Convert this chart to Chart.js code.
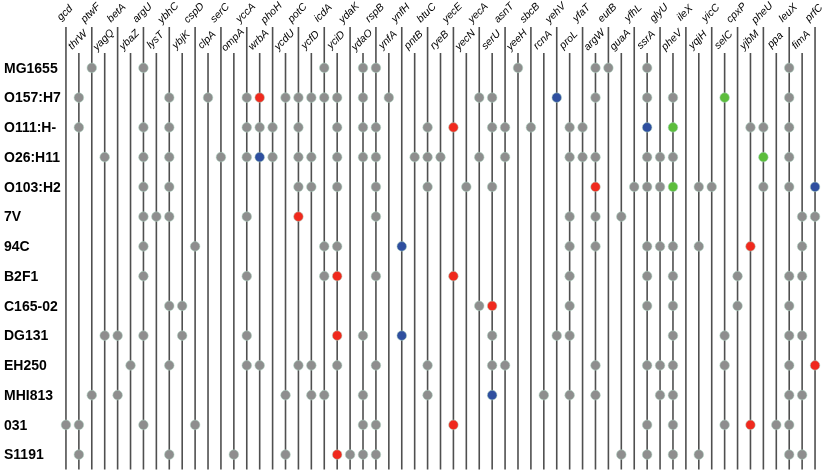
<!DOCTYPE html>
<html>
<head>
<meta charset="utf-8">
<script src="https://cdn.jsdelivr.net/npm/chart.js@4"></script>
<style>
  html, body { margin: 0; padding: 0; background: #ffffff; }
  #wrap { width: 827px; height: 475px; }
</style>
</head>
<body>
<div id="wrap"><canvas id="c" width="827" height="475"></canvas></div>
<script>
// ---- categories ----
const genes = ['gcd','thrW','ptwF','yagQ','betA','ybaZ','argU','lysT','ybhC','ybjK','cspD','clpA','serC','ompA','yccA','wrbA','phoH','ycdU','potC','ycfD','icdA','yciD','ydaK','ydaO','rspB','ynfA','ynfH','pntB','btuC','ryeB','yecE','yecN','yecA','serU','asnT','yeeH','sbcB','rcnA','yehV','proL','yfaT','argW','eutB','guaA','yfhL','ssrA','glyU','pheV','ileX','yqjH','yicC','selC','cpxP','yjbM','pheU','ppa','leuX','fimA','prfC'];
const strains = ['MG1655','O157:H7','O111:H-','O26:H11','O103:H2','7V','94C','B2F1','C165-02','DG131','EH250','MHI813','031','S1191'];

// ---- genes marked (occupied sites) per strain ----
const MG1655  = ['ptwF','argU','icdA','ydaO','rspB','yeeH','argW','eutB','ssrA','leuX'];
const O157_H7 = ['thrW','ybhC','clpA','yccA','wrbA','ycdU','potC','ycfD','icdA','yciD','ydaO','ynfA','yecA','serU','yehV','argW','ssrA','pheV','selC','leuX'];
const O111_H  = ['thrW','argU','ybhC','yccA','wrbA','phoH','potC','yciD','ydaO','rspB','btuC','yecE','serU','asnT','sbcB','proL','yfaT','ssrA','pheV','yjbM','pheU','leuX'];
const O26_H11 = ['yagQ','argU','ybhC','serC','yccA','wrbA','phoH','potC','ycfD','yciD','ydaO','rspB','pntB','btuC','ryeB','yecA','asnT','proL','yfaT','argW','ssrA','glyU','pheV','pheU','leuX'];
const O103_H2 = ['argU','ybhC','potC','ycfD','yciD','rspB','btuC','yecN','serU','argW','yfhL','ssrA','glyU','pheV','yqjH','yicC','pheU','leuX','prfC'];
const S7V     = ['argU','lysT','ybhC','yccA','potC','rspB','proL','argW','guaA','fimA','prfC'];
const S94C    = ['argU','cspD','icdA','yciD','ynfH','proL','argW','ssrA','glyU','pheV','yqjH','yjbM','fimA'];
const B2F1    = ['argU','yccA','icdA','yciD','rspB','yecE','proL','ssrA','pheV','cpxP','leuX','fimA'];
const C165_02 = ['ybhC','ybjK','yecA','serU','proL','ssrA','pheV','cpxP','leuX'];
const DG131   = ['yagQ','betA','argU','ybjK','yccA','yciD','ydaO','ynfH','serU','yehV','proL','pheV','selC','leuX','fimA'];
const EH250   = ['ybaZ','ybhC','yccA','wrbA','potC','ycfD','yciD','rspB','btuC','serU','asnT','argW','ssrA','glyU','pheV','selC','leuX','prfC'];
const MHI813  = ['ptwF','betA','ycdU','ycfD','icdA','ydaO','btuC','serU','rcnA','proL','argW','glyU','pheV','leuX','fimA'];
const S031    = ['gcd','thrW','argU','cspD','ydaO','rspB','yecE','ssrA','pheV','selC','yjbM','ppa','leuX'];
const S1191   = ['thrW','ybhC','ompA','ycdU','yciD','ydaK','ydaO','rspB','guaA','ssrA','pheV','yqjH','leuX','fimA'];
const rows = [MG1655, O157_H7, O111_H, O26_H11, O103_H2, S7V, S94C, B2F1, C165_02, DG131, EH250, MHI813, S031, S1191];

// ---- highlighted sites (strain, gene) ----
const redStrains   = ['O157:H7','O111:H-','O103:H2','7V','94C','B2F1','B2F1','C165-02','DG131','EH250','031','031','S1191'];
const redGenes     = ['wrbA','yecE','argW','potC','yjbM','yciD','yecE','serU','yciD','prfC','yecE','yjbM','yciD'];
const blueStrains  = ['O157:H7','O111:H-','O26:H11','O103:H2','94C','DG131','MHI813'];
const blueGenes    = ['yehV','ssrA','wrbA','prfC','ynfH','ynfH','serU'];
const greenStrains = ['O157:H7','O111:H-','O26:H11','O103:H2'];
const greenGenes   = ['selC','pheV','pheU','pheV'];

// ---- build point sets ----
function key(s, g) { return s + '|' + g; }
const hl = new Set();
[[redStrains, redGenes], [blueStrains, blueGenes], [greenStrains, greenGenes]].forEach(([ss, gg]) => {
  ss.forEach((s, i) => hl.add(key(s, gg[i])));
});
const grayPts = [];
rows.forEach((list, r) => {
  list.forEach(g => {
    if (!hl.has(key(strains[r], g))) grayPts.push({ x: genes.indexOf(g), y: r });
  });
});
function pts(ss, gg) { return ss.map((s, i) => ({ x: genes.indexOf(gg[i]), y: strains.indexOf(s) })); }

const halo = 'rgba(175,215,195,0.75)';
function ds(data, color) {
  return {
    data: data, backgroundColor: color, borderColor: halo, borderWidth: 0.7,
    pointRadius: 4.8, pointHoverRadius: 4.8, showLine: false
  };
}

// ---- plugin: gene lines + gene labels + strain labels ----
const decor = {
  id: 'decor',
  beforeDatasetsDraw(chart) {
    const { ctx, chartArea, scales } = chart;
    ctx.save();
    ctx.strokeStyle = '#4f4f4f';
    ctx.lineWidth = 1.6;
    genes.forEach((g, i) => {
      const x = scales.x.getPixelForValue(i);
      const top = (i % 2 === 0) ? chartArea.top - 26 : chartArea.top;
      ctx.beginPath();
      ctx.moveTo(x, top);
      ctx.lineTo(x, chartArea.bottom);
      ctx.stroke();
    });
    ctx.restore();
  },
  afterDraw(chart) {
    const { ctx, chartArea, scales } = chart;
    ctx.save();
    ctx.fillStyle = '#000';
    ctx.font = 'italic 10.5px "Liberation Sans", Arial, sans-serif';
    ctx.textAlign = 'center';
    ctx.textBaseline = 'middle';
    genes.forEach((g, i) => {
      const x = scales.x.getPixelForValue(i);
      const cy = (i % 2 === 0) ? chartArea.top - 40 : chartArea.top - 13;
      ctx.save();
      ctx.translate(x - 1, cy);
      ctx.rotate(-45 * Math.PI / 180);
      ctx.fillText(g, 0, 0);
      ctx.restore();
    });
    ctx.font = 'bold 14px "Liberation Sans", Arial, sans-serif';
    ctx.textAlign = 'left';
    strains.forEach((s, r) => {
      ctx.fillText(s, 4, scales.y.getPixelForValue(r) + 1);
    });
    ctx.restore();
  }
};

new Chart(document.getElementById('c'), {
  type: 'scatter',
  data: {
    datasets: [
      ds(grayPts, '#8e8e8e'),
      ds(pts(redStrains, redGenes), '#f0291d'),
      ds(pts(blueStrains, blueGenes), '#2f4f9f'),
      ds(pts(greenStrains, greenGenes), '#5cbd3c')
    ]
  },
  options: {
    responsive: false,
    animation: false,
    layout: { padding: { left: 59.5, right: 3, top: 53, bottom: 5 } },
    plugins: { legend: { display: false }, tooltip: { enabled: false } },
    scales: {
      x: { type: 'linear', min: -0.5, max: genes.length - 0.5, display: false },
      y: { type: 'linear', min: -0.5, max: strains.length - 0.5, reverse: true, display: false }
    }
  },
  plugins: [decor]
});
</script>
</body>
</html>
